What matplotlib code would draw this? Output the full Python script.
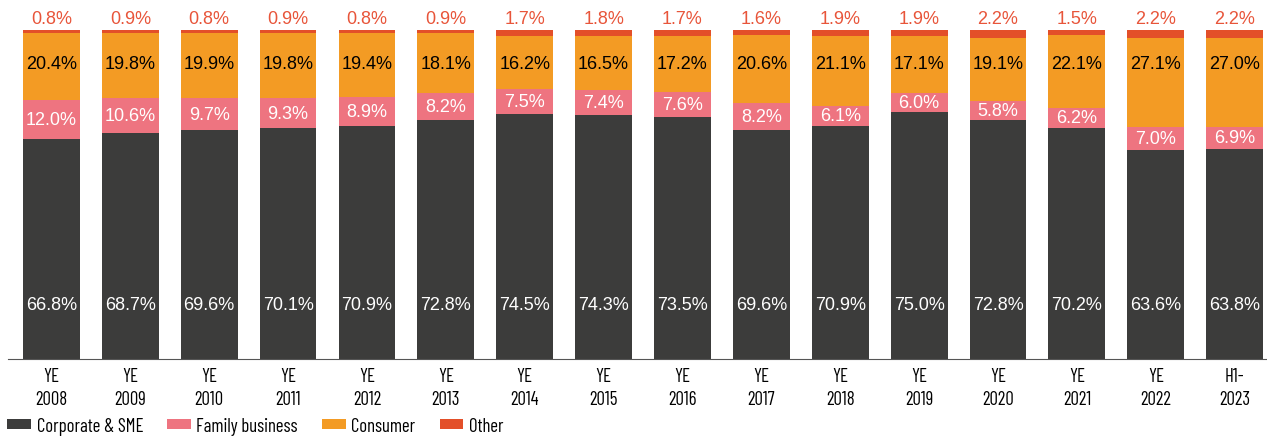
import matplotlib
matplotlib.use("Agg")
import matplotlib.pyplot as plt
import numpy as np

# --- Data ---
years = ["YE\n2008", "YE\n2009", "YE\n2010", "YE\n2011", "YE\n2012", "YE\n2013",
         "YE\n2014", "YE\n2015", "YE\n2016", "YE\n2017", "YE\n2018", "YE\n2019",
         "YE\n2020", "YE\n2021", "YE\n2022", "H1-\n2023"]
corporate = [66.8, 68.7, 69.6, 70.1, 70.9, 72.8, 74.5, 74.3, 73.5, 69.6, 70.9, 75.0, 72.8, 70.2, 63.6, 63.8]
family = [12.0, 10.6, 9.7, 9.3, 8.9, 8.2, 7.5, 7.4, 7.6, 8.2, 6.1, 6.0, 5.8, 6.2, 7.0, 6.9]
consumer = [20.4, 19.8, 19.9, 19.8, 19.4, 18.1, 16.2, 16.5, 17.2, 20.6, 21.1, 17.1, 19.1, 22.1, 27.1, 27.0]
other = [0.8, 0.9, 0.8, 0.9, 0.8, 0.9, 1.7, 1.8, 1.7, 1.6, 1.9, 1.9, 2.2, 1.5, 2.2, 2.2]

series_names = ["Corporate & SME", "Family business", "Consumer", "Other"]
colors = ["#3c3c3b", "#ee7480", "#f39b24", "#e34f29"]

label_font = ["Liberation Sans", "DejaVu Sans"]
narrow_font = ["Barlow Condensed", "Archivo Narrow", "Liberation Sans", "DejaVu Sans"]

fig = plt.figure(figsize=(12.67, 4.39), dpi=100)
ax = fig.add_axes([0.0063, 0.18, 0.9937, 0.749])

x = np.arange(len(years))
width = 0.72
bottom = np.zeros(len(years))
for vals, name, c in zip([corporate, family, consumer, other], series_names, colors):
    ax.bar(x, vals, width, bottom=bottom, color=c, label=name)
    bottom = bottom + np.array(vals)

# --- Labels ---
for i in range(len(years)):
    ax.text(x[i], 16.7, f"{corporate[i]:.1f}%", ha="center", va="center",
            color="white", fontsize=13, family=label_font)
    ax.text(x[i], corporate[i] + family[i] / 2, f"{family[i]:.1f}%", ha="center",
            va="center", color="white", fontsize=13, family=label_font)
    ax.text(x[i], 90, f"{consumer[i]:.1f}%", ha="center", va="center",
            color="black", fontsize=13, family=label_font)
    ax.text(x[i], 103.7, f"{other[i]:.1f}%", ha="center", va="center",
            color="#e8553a", fontsize=13, family=label_font, clip_on=False)

ax.set_xlim(-0.551, 15.41)
ax.set_ylim(0, 100)
ax.set_yticks([])
ax.set_xticks(x)
ax.set_xticklabels(years, fontsize=13.5, family=narrow_font, linespacing=1.3)
ax.tick_params(axis="x", length=0, pad=6)
for s in ["top", "right", "left"]:
    ax.spines[s].set_visible(False)
ax.spines["bottom"].set_color("#555555")
ax.spines["bottom"].set_linewidth(0.8)

fig.legend(loc="lower left", bbox_to_anchor=(-0.003, -0.018), ncol=4, frameon=False,
           prop={"family": narrow_font, "size": 13.5}, handlelength=1.25, handleheight=0.38,
           handletextpad=0.3, columnspacing=1.3, borderaxespad=0.2)

fig.savefig("out.png", dpi=100)
